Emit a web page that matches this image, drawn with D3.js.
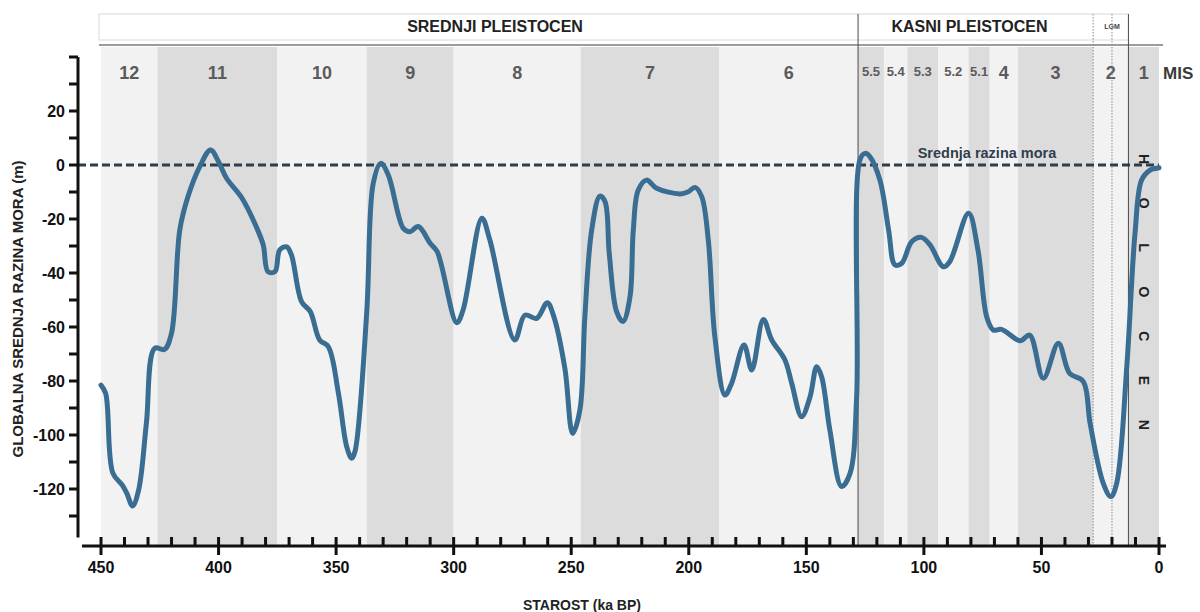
<!DOCTYPE html>
<html>
<head>
<meta charset="utf-8">
<script src="https://cdn.jsdelivr.net/npm/d3@7"></script>
<style>
    body { margin: 0; background: #fff; }
    svg { display: block; font-family: "Liberation Sans", Arial, sans-serif; }
</style>
</head>
<body>
<svg id="chart" width="1200" height="612"></svg>
<script>
// ---- data ----
const ageKa = [450, 448, 445, 441, 439, 436.6, 434, 430.7, 427.2, 423, 420, 416.5, 413, 408, 403.4, 400, 396.6,
    390, 384, 381, 379, 376, 374, 371, 369, 364.7, 361, 357, 353.3, 349, 345.5, 343.4, 342, 337, 334.2, 331,
    327.8, 321.4, 318.6, 315, 310, 307, 298.7, 296, 288, 284.6, 274, 269.7, 264.7, 260.2, 257.6, 252.7, 249.4,
    246.3, 244.2, 241.3, 237.8, 235.6, 233.8, 230.7, 228, 225, 223.6, 221.5, 218, 213.7, 203.7, 200.2, 197.4,
    194.5, 191.7, 188.9, 184.6, 181.8, 176.5, 173.2, 168.3, 164.7, 159.1, 156.2, 152, 148.4, 145.6, 143.5, 140,
    135, 131.4, 128.6, 127.2, 125, 123, 118.7, 115, 112.3, 109.4, 105.2, 101, 97.4, 91.7, 89, 81, 77, 73.3,
    70.5, 67, 59, 55, 49.2, 42.8, 38, 32.2, 29.3, 23.7, 20.5, 18, 13.7, 10.2, 7.4, 3.8, 1, 0];
const seaLevel = [-81.5, -84.6, -114, -118.5, -121.6, -126.3, -120.4, -95.7, -67.9, -68.3, -62.3, -24.1, -11.7,
    -0.6, 5.6, 1.2, -4.9, -12.3, -22.8, -29.6, -39.5, -39.5, -31.5, -30.3, -33.3, -50.6, -54.3, -64.8, -67.3,
    -84.6, -104.3, -108.6, -106.2, -54.9, -6.8, 0.6, -3.7, -23.5, -24.7, -22.8, -29, -32.1, -58.4, -53.7, -19.7,
    -27.8, -64.8, -55.6, -56.8, -51, -55.6, -75.3, -99.4, -90.7, -56.2, -24.1, -11.5, -13.6, -33, -54.3, -58,
    -48.8, -24.1, -9.3, -5.6, -8.6, -10.7, -9.9, -8.3, -11.7, -27.8, -63.6, -85.2, -80.9, -66.7, -75.9, -57.2,
    -64.8, -72.2, -80.9, -93.2, -85.8, -74.7, -78.4, -98.1, -119.1, -114.2, -85.8, 1.9, 4.3, 3.1, -5.6, -24.1,
    -37, -36.4, -28.4, -26.8, -29.6, -37.7, -35.8, -17.9, -31.5, -56.2, -61.1, -60.9, -65.1, -63, -79, -66,
    -77.2, -80.2, -95.7, -117.9, -122.8, -117.9, -74.7, -25.3, -5.6, -1.9, -1.2, -1];

const misNames = ["12", "11", "10", "9", "8", "7", "6", "5.5", "5.4", "5.3", "5.2", "5.1", "4", "3", "2", "1"];
const misStart = [450, 426, 375, 337, 300, 246, 187, 128, 117, 107, 94, 81, 72, 60, 28, 13];
const periodNames = ["SREDNJI PLEISTOCEN", "KASNI PLEISTOCEN", "LGM"];
const periodBounds = [128, 13];      // solid boundaries (ka)
const lgmBounds = [28, 20];          // dotted LGM marks (ka)
const holocenLetters = ["H", "O", "L", "O", "C", "E", "N"];
const yTicks = d3.range(40, -131, -10);
const yLabels = d3.range(20, -121, -20);
const xTicks = d3.range(0, 451, 10);

// ---- layout ----
const svg = d3.select("#chart");
const x = d3.scaleLinear().domain([450, 0]).range([101, 1159]);
const y = d3.scaleLinear().domain([40, -138]).range([57, 537.6]);
const AXIS_Y = 546, BAND_TOP = 47, HEAD_TOP = 14;
const LIGHT = "#f3f2f2", DARK = "#dddcdd";

// MIS bands
const mis = misNames.map((name, i) => ({
    name, from: misStart[i], to: i < misStart.length - 1 ? misStart[i + 1] : 0, dark: i % 2 === 1,
}));
svg.append("g").selectAll("rect").data(mis).join("rect")
    .attr("x", d => x(d.from))
    .attr("width", d => x(d.to) - x(d.from))
    .attr("y", BAND_TOP)
    .attr("height", AXIS_Y - BAND_TOP)
    .attr("fill", d => d.dark ? DARK : LIGHT);

svg.append("g").selectAll("text").data(mis).join("text")
    .attr("x", d => (x(d.from) + x(d.to)) / 2)
    .attr("y", d => d.name.includes(".") ? 76 : 79)
    .attr("text-anchor", "middle")
    .attr("font-weight", "bold")
    .attr("font-size", d => d.name.includes(".") ? 13 : 18)
    .attr("fill", "#5b5b5b")
    .text(d => d.name);

svg.append("text")
    .attr("x", 1163).attr("y", 79)
    .attr("font-weight", "bold").attr("font-size", 17)
    .attr("fill", "#3a3a3a")
    .text("MIS");

// header strip
svg.append("rect")
    .attr("x", 99).attr("y", HEAD_TOP)
    .attr("width", x(13) - 99).attr("height", 26)
    .attr("fill", "#fff").attr("stroke", "#d8d8d8");
svg.append("line")
    .attr("x1", 99).attr("x2", 1163)
    .attr("y1", 45).attr("y2", 45)
    .attr("stroke", "#9c9c9c").attr("stroke-width", 2);

svg.append("text")
    .attr("x", 495).attr("y", 32)
    .attr("text-anchor", "middle").attr("font-weight", "bold").attr("font-size", 16)
    .attr("fill", "#222")
    .text(periodNames[0]);
svg.append("text")
    .attr("x", 969.5).attr("y", 32)
    .attr("text-anchor", "middle").attr("font-weight", "bold").attr("font-size", 16)
    .attr("fill", "#222")
    .text(periodNames[1]);
svg.append("text")
    .attr("x", x(20)).attr("y", 29)
    .attr("text-anchor", "middle").attr("font-weight", "bold").attr("font-size", 7)
    .attr("fill", "#444")
    .text(periodNames[2]);

// boundary lines
svg.append("g").selectAll("line").data(lgmBounds).join("line")
    .attr("x1", d => x(d)).attr("x2", d => x(d))
    .attr("y1", HEAD_TOP).attr("y2", AXIS_Y)
    .attr("stroke", "#8a8a8a").attr("stroke-width", 1)
    .attr("stroke-dasharray", "1.5,1.5");
svg.append("g").selectAll("line").data(periodBounds).join("line")
    .attr("x1", d => x(d)).attr("x2", d => x(d))
    .attr("y1", HEAD_TOP).attr("y2", AXIS_Y)
    .attr("stroke", "#4a4a4a").attr("stroke-width", 1);

// mean sea level
svg.append("line")
    .attr("x1", 78).attr("x2", x(0))
    .attr("y1", y(0)).attr("y2", y(0))
    .attr("stroke", "#2c3d4d").attr("stroke-width", 3)
    .attr("stroke-dasharray", "8,4");
svg.append("text")
    .attr("x", 987).attr("y", y(0) - 7)
    .attr("text-anchor", "middle").attr("font-weight", "bold").attr("font-size", 14.5)
    .attr("fill", "#2f3f4e")
    .text("Srednja razina mora");

// HOLOCEN, letters rotated
svg.append("g").selectAll("text").data(holocenLetters).join("text")
    .attr("transform", (d, i) => `translate(1144, ${159 + i * 44.3}) rotate(90)`)
    .attr("text-anchor", "middle")
    .attr("dominant-baseline", "central")
    .attr("font-weight", "bold").attr("font-size", 14)
    .attr("fill", "#222")
    .text(d => d);

// sea-level curve
const points = ageKa.map((a, i) => ({ a, v: seaLevel[i] }));
svg.append("path")
    .datum(points)
    .attr("fill", "none")
    .attr("stroke", "#3a6d92")
    .attr("stroke-width", 5)
    .attr("stroke-linejoin", "round")
    .attr("stroke-linecap", "round")
    .attr("d", d3.line().x(d => x(d.a)).y(d => y(d.v)).curve(d3.curveCatmullRom.alpha(0.5)));

// y axis
const yAxis = svg.append("g");
yAxis.append("line")
    .attr("x1", 78).attr("x2", 78)
    .attr("y1", y(40)).attr("y2", y(-138))
    .attr("stroke", "#111").attr("stroke-width", 3);
yAxis.selectAll("line.tick").data(yTicks).join("line")
    .attr("class", "tick")
    .attr("x1", 69).attr("x2", 78)
    .attr("y1", d => y(d)).attr("y2", d => y(d))
    .attr("stroke", "#111").attr("stroke-width", 3);
yAxis.selectAll("text").data(yLabels).join("text")
    .attr("x", 65).attr("y", d => y(d))
    .attr("text-anchor", "end").attr("dominant-baseline", "central")
    .attr("font-weight", "bold").attr("font-size", 16)
    .attr("fill", "#111")
    .text(d => String(d));

svg.append("text")
    .attr("transform", "translate(23, 309) rotate(-90)")
    .attr("text-anchor", "middle")
    .attr("font-weight", "bold").attr("font-size", 15)
    .attr("fill", "#222")
    .text("GLOBALNA SREDNJA RAZINA MORA (m)");

// x axis
const xAxis = svg.append("g");
xAxis.append("line")
    .attr("x1", 82).attr("x2", 1166)
    .attr("y1", AXIS_Y).attr("y2", AXIS_Y)
    .attr("stroke", "#111").attr("stroke-width", 3);
xAxis.selectAll("line.tick").data(xTicks).join("line")
    .attr("class", "tick")
    .attr("x1", d => x(d)).attr("x2", d => x(d))
    .attr("y1", 537)
    .attr("y2", d => d % 50 === 0 ? 555 : AXIS_Y)
    .attr("stroke", "#111").attr("stroke-width", 3);
xAxis.selectAll("text").data(xTicks.filter(d => d % 50 === 0)).join("text")
    .attr("x", d => x(d)).attr("y", 573)
    .attr("text-anchor", "middle")
    .attr("font-weight", "bold").attr("font-size", 16)
    .attr("fill", "#111")
    .text(d => String(d));

svg.append("text")
    .attr("x", 582).attr("y", 610)
    .attr("text-anchor", "middle")
    .attr("font-weight", "bold").attr("font-size", 14)
    .attr("fill", "#222")
    .text("STAROST (ka BP)");
</script>
</body>
</html>
